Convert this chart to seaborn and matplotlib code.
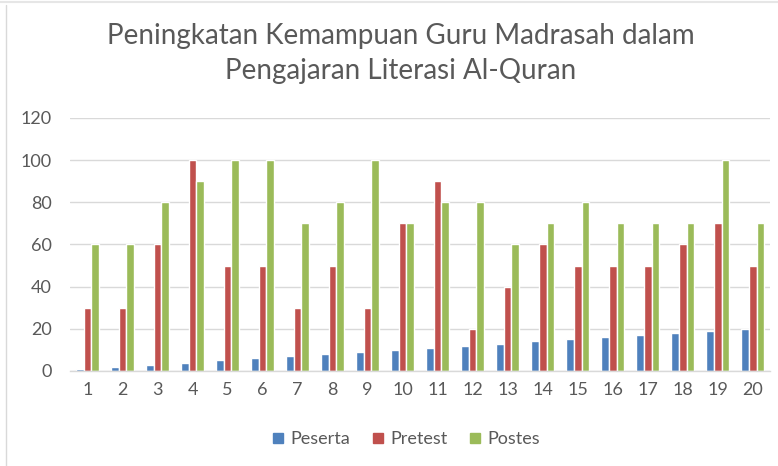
import matplotlib
matplotlib.use("Agg")
import matplotlib.pyplot as plt
from matplotlib.lines import Line2D
import seaborn as sns
import pandas as pd

participants = list(range(1, 21))
peserta = [1, 2, 3, 4, 5, 6, 7, 8, 9, 10, 11, 12, 13, 14, 15, 16, 17, 18, 19, 20]
pretest = [30, 30, 60, 100, 50, 50, 30, 50, 30, 70, 90, 20, 40, 60, 50, 50, 50, 60, 70, 50]
postes = [60, 60, 80, 90, 100, 100, 70, 80, 100, 70, 80, 80, 60, 70, 80, 70, 70, 70, 100, 70]
series_names = ["Peserta", "Pretest", "Postes"]
colors = ["#4F81BD", "#C0504D", "#9BBB59"]
title = "Peningkatan Kemampuan Guru Madrasah dalam\nPengajaran Literasi Al-Quran"

df = pd.DataFrame({"x": participants, "Peserta": peserta, "Pretest": pretest, "Postes": postes})
long = df.melt(id_vars="x", value_vars=series_names, var_name="series", value_name="value")

sns.set_style("white")
plt.rcParams["font.family"] = ["Lato", "DejaVu Sans"]

fig = plt.figure(figsize=(7.78, 4.66), dpi=100)
ax = fig.add_axes([0.09, 0.204, 0.9, 0.543])

sns.barplot(data=long, x="x", y="value", hue="series", hue_order=series_names,
            palette=colors, width=0.66, ax=ax, legend=False, saturation=1,
            edgecolor="white", linewidth=1.0)

ax.set_ylim(0, 120)
ax.set_yticks(range(0, 121, 20))
ax.set_xlim(-0.5, 19.5)
ax.yaxis.grid(True, color="#D9D9D9", linewidth=1)
ax.set_axisbelow(True)
for s in ["top", "right", "left"]:
    ax.spines[s].set_visible(False)
ax.spines["bottom"].set_color("#D9D9D9")
ax.spines["bottom"].set_linewidth(1)
ax.tick_params(axis="both", length=0, labelsize=13, colors="#595959", pad=8)
ax.tick_params(axis="y", pad=13)
ax.set_xlabel("")
ax.set_ylabel("")

fig.text(0.515, 0.95, title, ha="center", va="top", fontsize=20, color="#595959",
         linespacing=1.42)

handles = [Line2D([0], [0], marker="s", linestyle="none", markersize=7,
                  markerfacecolor=c, markeredgecolor=c) for c in colors]
fig.legend(handles, series_names, loc="center", bbox_to_anchor=(0.52, 0.058), ncol=3,
           frameon=False, fontsize=13, labelcolor="#595959", handletextpad=0.2,
           columnspacing=1.0, handlelength=1.0)

# frame fragments of the source
fig.add_artist(Line2D([0.008, 0.008], [0, 0.99], transform=fig.transFigure,
                      color="#D9D9D9", linewidth=1))
fig.add_artist(Line2D([0, 1], [0.996, 0.996], transform=fig.transFigure,
                      color="#E6E6E6", linewidth=1.5))

fig.savefig("out.png", dpi=100)
